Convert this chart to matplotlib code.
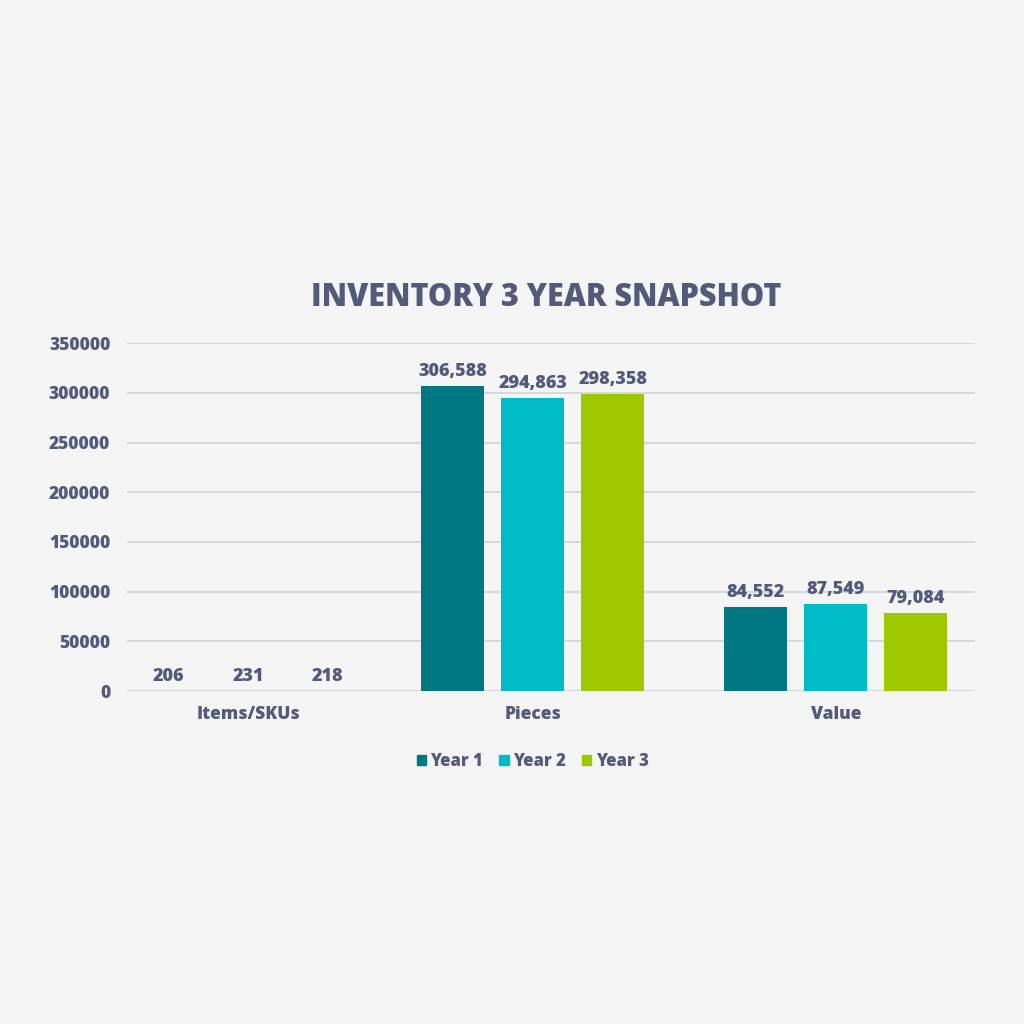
import numpy as np
import matplotlib.pyplot as plt
from matplotlib.patches import Patch

categories = ['Items/SKUs', 'Pieces', 'Value']
series = ['Year 1', 'Year 2', 'Year 3']
year1 = [206, 306588, 84552]
year2 = [231, 294863, 87549]
year3 = [218, 298358, 79084]
yticks = [0, 50000, 100000, 150000, 200000, 250000, 300000, 350000]

colors = ['#007882', '#00bcc8', '#9ec800']
txt = '#535a7a'
bg = '#f5f5f5'

plt.rcParams['font.family'] = ['Open Sans', 'DejaVu Sans']
plt.rcParams['font.weight'] = 'bold'

fig = plt.figure(figsize=(10.24, 10.24), dpi=100, facecolor=bg)
ax = fig.add_axes([0.124, 0.325, 0.828, 0.340], facecolor=bg)

# group centres (layout, in axis units of the 848 px wide plot area)
centers = np.array([121, 406, 709])
width = 63
step = 80

for i, vals in enumerate([year1, year2, year3]):
    xs = centers + (i - 1) * step
    ax.bar(xs, vals, width=width, color=colors[i], zorder=3, label=series[i])
    for x, v in zip(xs, vals):
        ax.text(x, v + 6000, f'{v:,}', ha='center', va='bottom',
                fontsize=13, color=txt, fontweight='heavy')

ax.set_xlim(0, 848)
ax.set_ylim(0, 350000)
ax.set_yticks(yticks)
ax.set_yticklabels([str(t) for t in yticks])
ax.set_xticks(centers)
ax.set_xticklabels(categories)
ax.tick_params(axis='y', length=0, pad=12, labelsize=12.5, labelcolor=txt)
ax.tick_params(axis='x', length=0, pad=11, labelsize=12.5, labelcolor=txt)
for lab in ax.get_xticklabels() + ax.get_yticklabels():
    lab.set_fontweight('heavy')

ax.grid(axis='y', color='#d4d7df', linewidth=1.3, zorder=0)
for s in ax.spines.values():
    s.set_visible(False)

fig.text(0.533, 0.709, 'INVENTORY 3 YEAR SNAPSHOT', ha='center', va='center',
         fontsize=22, color=txt, fontweight='heavy')

handles = [Patch(color=c, label=s) for c, s in zip(colors, series)]
fig.legend(handles=handles, loc='center', bbox_to_anchor=(0.52, 0.256), ncol=3,
           frameon=False, handlelength=0.55, handleheight=0.55, handletextpad=0.25,
           columnspacing=1.0, prop={'size': 12, 'weight': 'heavy'},
           labelcolor=txt)

fig.savefig('out.png', dpi=100, facecolor=bg)
